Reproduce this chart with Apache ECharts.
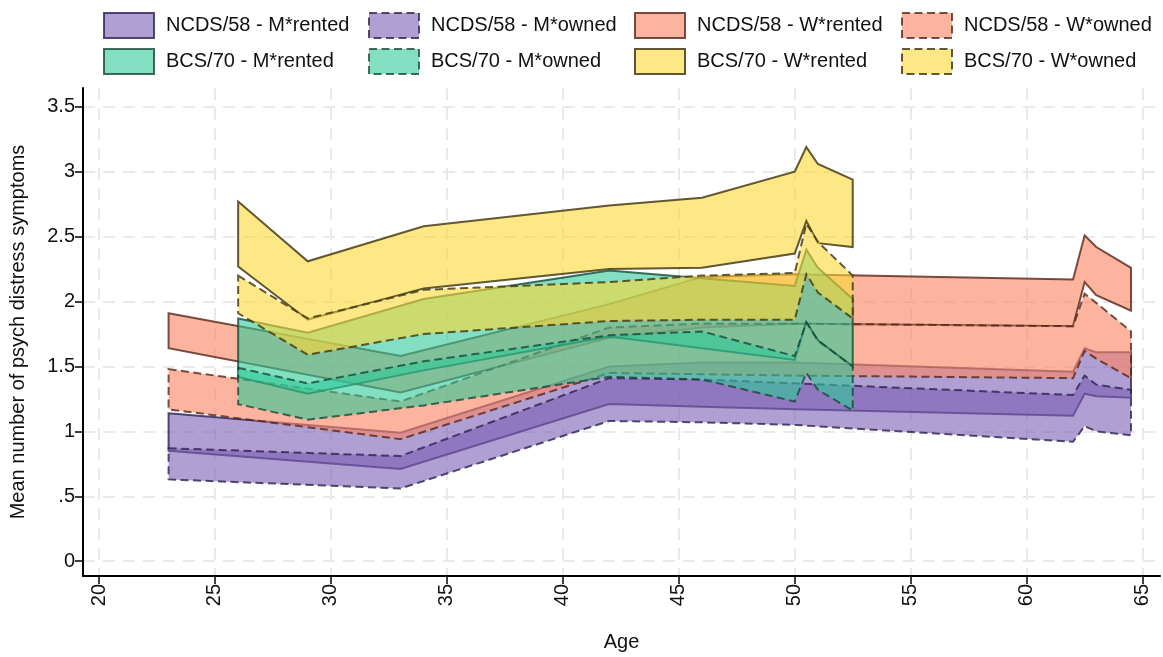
<!DOCTYPE html>
<html>
<head>
<meta charset="utf-8">
<script src="https://cdn.jsdelivr.net/npm/echarts@6/dist/echarts.min.js"></script>
<style>
  html, body { margin: 0; padding: 0; background: #fff; }
  #chart { width: 1163px; height: 657px; }
</style>
</head>
<body>
<div id="chart"></div>
<script>
// Ages at which each cohort was surveyed
const ncdsAges = [23, 33, 42, 46, 50, 62, 62.5, 63, 64.5];
const bcsAges  = [26, 29, 34, 42, 46, 50, 50.5, 51, 52.5];

// Confidence bands (lower / upper) for mean psychological distress
const ncdsMRentedLo = [0.85, 0.71, 1.21, 1.19, 1.17, 1.12, 1.29, 1.27, 1.26];
const ncdsMRentedHi = [1.14, 0.99, 1.50, 1.53, 1.53, 1.46, 1.64, 1.61, 1.61];
const ncdsMOwnedLo  = [0.63, 0.56, 1.08, 1.07, 1.05, 0.92, 1.04, 1.00, 0.97];
const ncdsMOwnedHi  = [0.87, 0.81, 1.41, 1.40, 1.37, 1.28, 1.43, 1.36, 1.32];
const ncdsWRentedLo = [1.64, 1.30, 1.72, 1.80, 1.83, 1.81, 2.15, 2.05, 1.93];
const ncdsWRentedHi = [1.91, 1.58, 1.98, 2.19, 2.21, 2.17, 2.51, 2.42, 2.26];
const ncdsWOwnedLo  = [1.17, 0.94, 1.45, 1.44, 1.43, 1.41, 1.62, 1.56, 1.41];
const ncdsWOwnedHi  = [1.48, 1.23, 1.80, 1.83, 1.83, 1.81, 2.06, 1.99, 1.77];

const bcsMRentedLo = [1.42, 1.29, 1.47, 1.73, 1.64, 1.55, 1.84, 1.70, 1.50];
const bcsMRentedHi = [1.87, 1.76, 2.02, 2.24, 2.18, 2.12, 2.40, 2.26, 2.02];
const bcsMOwnedLo  = [1.21, 1.09, 1.20, 1.42, 1.40, 1.23, 1.45, 1.32, 1.16];
const bcsMOwnedHi  = [1.49, 1.37, 1.54, 1.74, 1.77, 1.58, 1.84, 1.70, 1.50];
const bcsWRentedLo = [2.27, 1.86, 2.10, 2.25, 2.26, 2.37, 2.62, 2.45, 2.42];
const bcsWRentedHi = [2.77, 2.31, 2.58, 2.74, 2.80, 3.00, 3.19, 3.06, 2.94];
const bcsWOwnedLo  = [1.91, 1.59, 1.75, 1.85, 1.86, 1.86, 2.21, 2.07, 1.87];
const bcsWOwnedHi  = [2.20, 1.87, 2.09, 2.15, 2.20, 2.22, 2.60, 2.46, 2.20];

// Axis ticks
const xTicks = [20, 25, 30, 35, 40, 45, 50, 55, 60, 65];
const yTicks = [0, 0.5, 1, 1.5, 2, 2.5, 3, 3.5];

const seriesNames = [
  'NCDS/58 - M*rented', 'NCDS/58 - M*owned', 'NCDS/58 - W*rented', 'NCDS/58 - W*owned',
  'BCS/70 - M*rented', 'BCS/70 - M*owned', 'BCS/70 - W*rented', 'BCS/70 - W*owned'
];

const FONT = "'Liberation Sans', Arial, Helvetica, sans-serif";
const DASH = [8, 4.5];

const palette = {
  purple: { fill: 'rgba(123, 95, 181, 0.60)', edge: 'rgba(45, 32, 80, 0.80)' },
  salmon: { fill: 'rgba(250, 134, 100, 0.62)', edge: 'rgba(85, 38, 25, 0.80)' },
  green:  { fill: 'rgba(46, 201, 152, 0.60)', edge: 'rgba(22, 72, 55, 0.80)' },
  yellow: { fill: 'rgba(253, 216, 53, 0.60)', edge: 'rgba(70, 60, 22, 0.85)' }
};

const bands = [
  { name: seriesNames[0], ages: ncdsAges, lo: ncdsMRentedLo, hi: ncdsMRentedHi, col: palette.purple, dashed: false },
  { name: seriesNames[1], ages: ncdsAges, lo: ncdsMOwnedLo,  hi: ncdsMOwnedHi,  col: palette.purple, dashed: true },
  { name: seriesNames[2], ages: ncdsAges, lo: ncdsWRentedLo, hi: ncdsWRentedHi, col: palette.salmon, dashed: false },
  { name: seriesNames[3], ages: ncdsAges, lo: ncdsWOwnedLo,  hi: ncdsWOwnedHi,  col: palette.salmon, dashed: true },
  { name: seriesNames[4], ages: bcsAges,  lo: bcsMRentedLo,  hi: bcsMRentedHi,  col: palette.green,  dashed: false },
  { name: seriesNames[5], ages: bcsAges,  lo: bcsMOwnedLo,   hi: bcsMOwnedHi,   col: palette.green,  dashed: true },
  { name: seriesNames[6], ages: bcsAges,  lo: bcsWRentedLo,  hi: bcsWRentedHi,  col: palette.yellow, dashed: false },
  { name: seriesNames[7], ages: bcsAges,  lo: bcsWOwnedLo,   hi: bcsWOwnedHi,   col: palette.yellow, dashed: true }
];

// One closed polygon per band: upper edge left to right, lower edge back
function makeBandRenderer(band) {
  return function (params, api) {
    if (params.dataIndexInside !== 0) return null;
    const n = params.dataInsideLength;
    const upper = [], lower = [];
    for (let i = 0; i < n; i++) {
      const x = api.value(0, i);
      upper.push(api.coord([x, api.value(2, i)]));
      lower.push(api.coord([x, api.value(1, i)]));
    }
    return {
      type: 'polygon',
      shape: { points: upper.concat(lower.reverse()) },
      style: {
        fill: band.col.fill,
        stroke: band.col.edge,
        lineWidth: 2,
        lineDash: band.dashed ? DASH : null,
        lineJoin: 'miter'
      }
    };
  };
}

const series = bands.map((b, k) => ({
  type: 'custom',
  name: b.name,
  z: 2 + k,
  renderItem: makeBandRenderer(b),
  encode: { x: 0, y: [1, 2] },
  itemStyle: {
    color: b.col.fill,
    borderColor: b.col.edge,
    borderWidth: 2,
    borderType: b.dashed ? DASH : 'solid'
  },
  data: b.ages.map((a, i) => [a, b.lo[i], b.hi[i]]),
  animation: false
}));

function legendColumn(left, names) {
  return {
    orient: 'vertical',
    left: left,
    top: 12,
    padding: 0,
    itemWidth: 50,
    itemHeight: 25,
    itemGap: 9,
    icon: 'rect',
    selectedMode: false,
    textStyle: { fontFamily: FONT, fontSize: 20, lineHeight: 25, color: '#111', padding: [0, 0, 0, 7] },
    data: names.map(n => {
      const b = bands[seriesNames.indexOf(n)];
      return {
        name: n,
        itemStyle: {
          color: b.col.fill,
          borderColor: b.col.edge,
          borderWidth: 2,
          borderType: b.dashed ? DASH : 'solid'
        }
      };
    })
  };
}

const gridLine = { show: true, lineStyle: { color: '#e9e9e9', width: 2, type: [12, 8] } };

const option = {
  backgroundColor: '#fff',
  animation: false,
  legend: [
    legendColumn(103, [seriesNames[0], seriesNames[4]]),
    legendColumn(368, [seriesNames[1], seriesNames[5]]),
    legendColumn(634, [seriesNames[2], seriesNames[6]]),
    legendColumn(901, [seriesNames[3], seriesNames[7]])
  ],
  grid: { left: 83, right: 3, top: 88, bottom: 75, containLabel: false },
  xAxis: {
    type: 'value',
    min: 19.31,
    max: 65.75,
    name: 'Age',
    nameLocation: 'middle',
    nameGap: 56,
    nameTextStyle: { fontFamily: FONT, fontSize: 20, color: '#111' },
    axisLine: { show: true, onZero: false, lineStyle: { color: '#000', width: 2 } },
    axisTick: { show: true, length: 8, customValues: xTicks, lineStyle: { color: '#000', width: 1.5 } },
    axisLabel: { customValues: xTicks, rotate: 90, margin: 8, fontFamily: FONT, fontSize: 20, color: '#111' },
    splitLine: gridLine
  },
  yAxis: {
    type: 'value',
    min: -0.114,
    max: 3.645,
    name: 'Mean number of psych distress symptoms',
    nameLocation: 'middle',
    nameGap: 55,
    nameTextStyle: { fontFamily: FONT, fontSize: 20, color: '#111' },
    axisLine: { show: true, onZero: false, lineStyle: { color: '#000', width: 2 } },
    axisTick: { show: true, length: 8, customValues: yTicks, lineStyle: { color: '#000', width: 1.5 } },
    axisLabel: {
      customValues: yTicks,
      margin: 8,
      fontFamily: FONT,
      fontSize: 20,
      color: '#111',
      formatter: v => String(v).replace(/^0\./, '.')
    },
    splitLine: gridLine
  },
  series: series
};

const chart = echarts.init(document.getElementById('chart'), null, { renderer: 'canvas' });
chart.setOption(option);
</script>
</body>
</html>
